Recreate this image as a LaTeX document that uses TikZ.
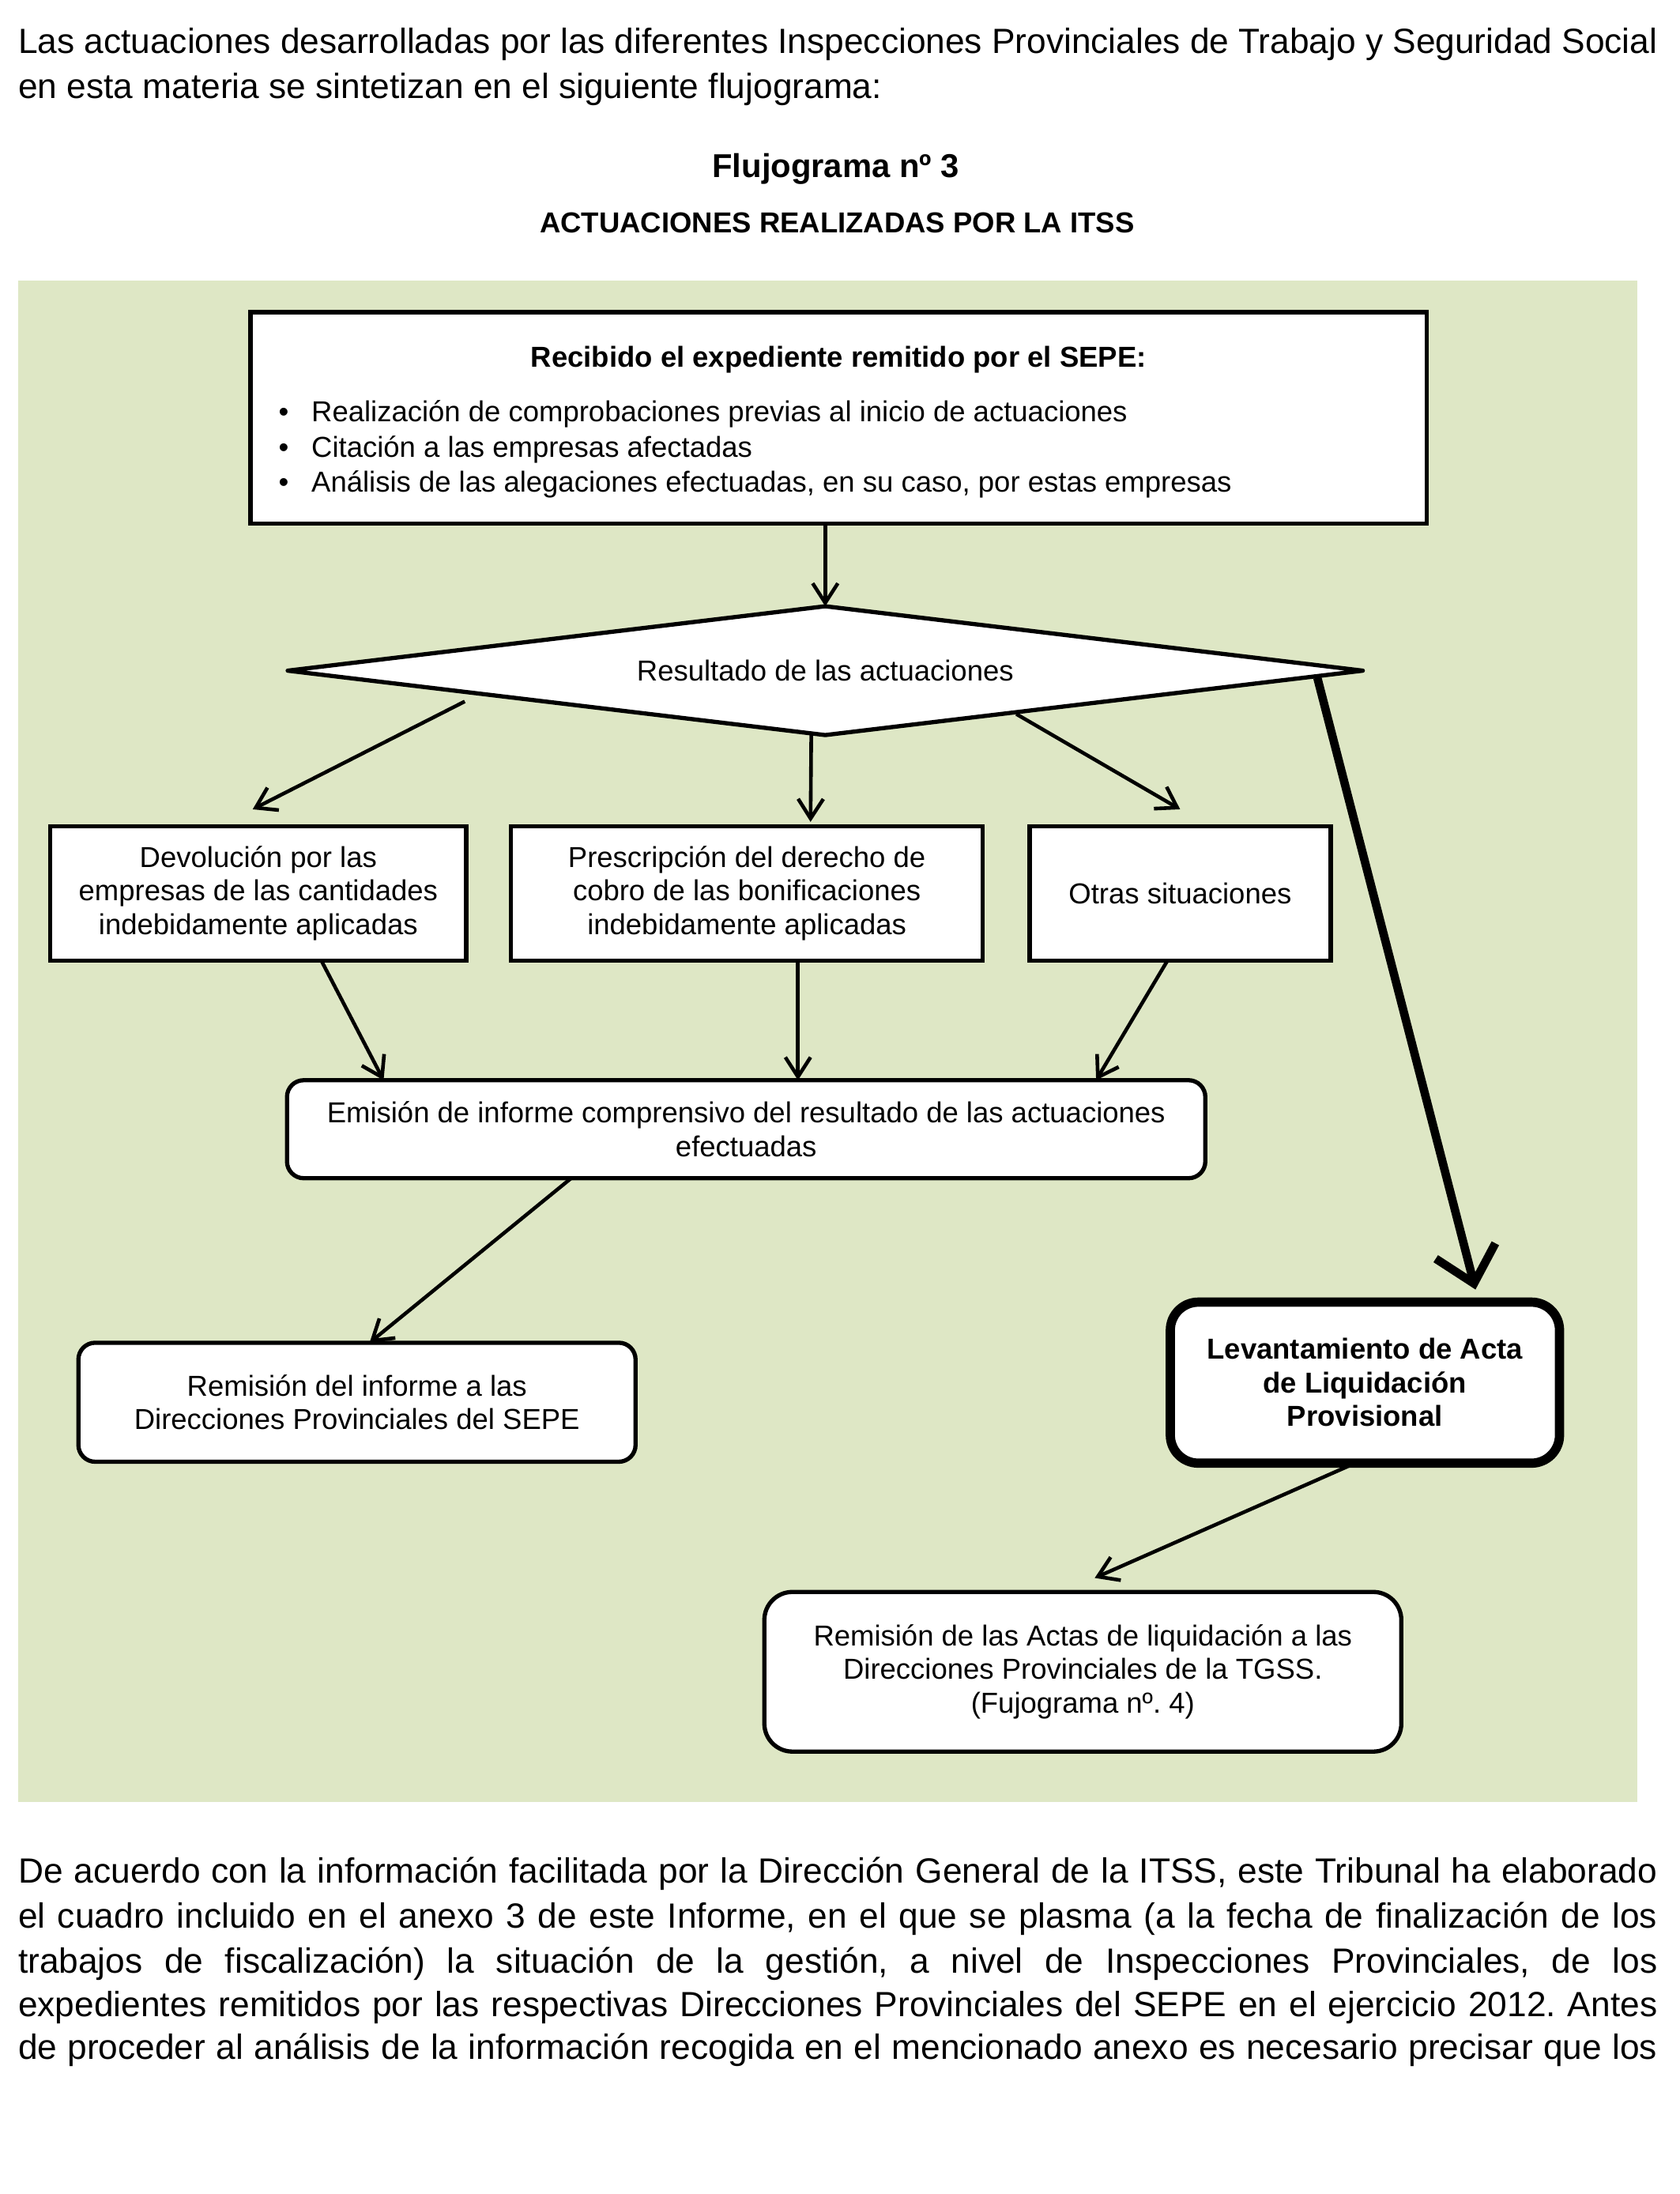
\documentclass[tikz,border=0pt]{standalone}
\usepackage{fontspec}
\setmainfont{Liberation Sans}
\usetikzlibrary{arrows.meta,shapes.geometric,calc}
\definecolor{bggreen}{HTML}{DEE7C5}
\newcommand\fsbody{\fontsize{12.5}{16}\selectfont}
\newcommand\fsbox{\fontsize{10.3}{12}\selectfont}
\newcommand\fstitle{\fontsize{11.8}{14}\selectfont\bfseries}
\newcommand\bodyline[1]{\makebox[585.5pt][s]{#1}}
\frenchspacing
\begin{document}
\begin{tikzpicture}[x=0.5pt,y=-0.5pt,
  txt/.style={inner sep=0pt, outer sep=0pt},
  body/.style={txt, anchor=base west, font=\fsbody},
  box/.style={draw, line width=1.5pt, fill=white, inner sep=0pt, outer sep=0pt, align=center, font=\fsbox},
  rbox/.style={box, rounded corners=6pt},
  arr/.style={line width=1.3pt, -{Straight Barb[length=7pt,width=9pt]}},
  thickarr/.style={line width=3pt, -{Straight Barb[length=12pt,width=22pt]}}]
\useasboundingbox (0,0) rectangle (1200,1567);
\fill[white] (0,0) rectangle (1200,1567);

% intro paragraph
\node[body] (p1a) at (13,38) {\bodyline{Las actuaciones desarrolladas por las diferentes Inspecciones Provinciales de Trabajo y Seguridad Social}};
\node[body] (p1b) at (13,70) {en esta materia se sintetizan en el siguiente flujograma:};

% titles
\node[txt, anchor=base, font=\fstitle] (title) at (597,127) {Flujograma nº 3};
\node[txt, anchor=base, font=\fsbox\bfseries] (subtitle) at (598,166) {ACTUACIONES REALIZADAS POR LA ITSS};

% green background
\fill[bggreen] (13,200.5) rectangle (1169.5,1287);

% top box
\node[box, minimum width=420pt, minimum height=75.5pt] (recibido) at (599,298.5) {};
\node[txt, anchor=base, font=\fsbox\bfseries] (rectitle) at (599,262) {Recibido el expediente remitido por el SEPE:};
\node[txt, anchor=base, font=\fsbox] (b1) at (202.6,301) {•};
\node[txt, anchor=base, font=\fsbox] (b2) at (202.6,326.5) {•};
\node[txt, anchor=base, font=\fsbox] (b3) at (202.6,351.5) {•};
\node[txt, anchor=base west, font=\fsbox] (l1) at (222.5,301) {Realización de comprobaciones previas al inicio de actuaciones};
\node[txt, anchor=base west, font=\fsbox] (l2) at (222.5,326.5) {Citación a las empresas afectadas};
\node[txt, anchor=base west, font=\fsbox] (l3) at (222.5,351.5) {Análisis de las alegaciones efectuadas, en su caso, por estas empresas};

% decision
\node[draw, line width=1.5pt, line join=round, fill=white, shape=diamond, aspect=8.36, inner sep=0pt, outer sep=0pt,
      minimum width=384pt, minimum height=46pt, font=\fsbox] (res) at (589.5,479) {Resultado de las actuaciones};

% three boxes
\node[box, minimum width=148.5pt, minimum height=48pt] (boxA) at (184.5,638)
  {Devolución por las\\empresas de las cantidades\\indebidamente aplicadas};
\node[box, minimum width=168.5pt, minimum height=48pt] (boxB) at (533.5,638)
  {Prescripción del derecho de\\cobro de las bonificaciones\\indebidamente aplicadas};
\node[box, minimum width=107.5pt, minimum height=48pt] (boxC) at (843,638) {Otras situaciones};

% emision
\node[rbox, minimum width=328pt, minimum height=35pt] (emision) at (533,806.5)
  {Emisión de informe comprensivo del resultado de las actuaciones\\efectuadas};

% remision
\node[rbox, minimum width=199pt, minimum height=42.5pt] (remision) at (255,1001.5)
  {Remisión del informe a las\\Direcciones Provinciales del SEPE};

% levantamiento
\node[box, line width=3.3pt, rounded corners=10pt, minimum width=139pt, minimum height=57.5pt, font=\fsbox\bfseries] (levant) at (975,987.5)
  {Levantamiento de Acta\\de Liquidación\\Provisional};

% final
\node[box, rounded corners=10pt, minimum width=227.5pt, minimum height=57pt] (final) at (773.5,1194)
  {Remisión de las Actas de liquidación a las\\Direcciones Provinciales de la TGSS.\\(Fujograma nº. 4)};

% connectors
\coordinate (d1) at (332,501);
\coordinate (d3) at (726,510);
\coordinate (d4) at (941,484);
\draw[arr] (res.north |- recibido.south) -- (res.north);
\draw[arr] (d1) -- ([xshift=-2pt,yshift=6pt]boxA.north);
\draw[arr] ([xshift=-5pt]res.south) -- ([xshift=22.75pt,yshift=1.5pt]boxB.north);
\draw[arr] (d3) -- ([yshift=6pt]boxC.north);
\draw[thickarr] (d4) -- ([xshift=39.5pt,yshift=4.5pt]levant.north);
\draw[arr] ([xshift=22.5pt]boxA.south) -- ([xshift=-129.5pt]emision.north);
\draw[arr] ([xshift=18.25pt]boxB.south) -- ([xshift=18.5pt]emision.north);
\draw[arr] ([xshift=-4.5pt]boxC.south) -- ([xshift=125pt]emision.north);
\draw[arr] ([xshift=-62.5pt]emision.south) -- ([xshift=4.5pt]remision.north);
\draw[arr] ([xshift=-3.5pt]levant.south) -- ([xshift=4.25pt,yshift=5pt]final.north);

% closing paragraph
\node[body] (p2a) at (13,1345) {\bodyline{De acuerdo con la información facilitada por la Dirección General de la ITSS, este Tribunal ha elaborado}};
\node[body] (p2b) at (13,1377) {\bodyline{el cuadro incluido en el anexo 3 de este Informe, en el que se plasma (a la fecha de finalización de los}};
\node[body] (p2c) at (13,1409) {\bodyline{trabajos de fiscalización) la situación de la gestión, a nivel de Inspecciones Provinciales, de los}};
\node[body] (p2d) at (13,1440) {\bodyline{expedientes remitidos por las respectivas Direcciones Provinciales del SEPE en el ejercicio 2012. Antes}};
\node[body] (p2e) at (13,1471) {\bodyline{de proceder al análisis de la información recogida en el mencionado anexo es necesario precisar que los}};
\end{tikzpicture}
\end{document}
